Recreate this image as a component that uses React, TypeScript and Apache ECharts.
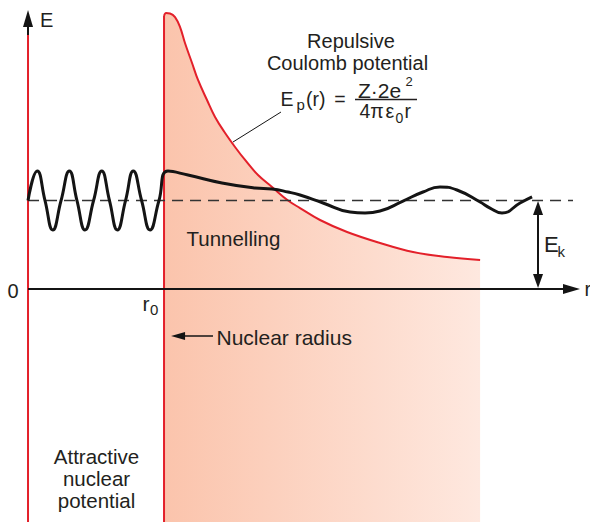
import React, { useEffect, useRef } from 'react';
import * as echarts from 'echarts';

// Axis units: r in units where the nuclear radius r0 = 10, E in units where Ek = 10
const R0 = 10;
const EK = 10;
const X_MIN = -2.06;
const X_MAX = 41.32;
const Y_MIN = -26.33;
const Y_MAX = 32.66;

// Repulsive Coulomb barrier (r, E)
const BARRIER_R = [10, 10.15, 10.44, 10.81, 11.18, 11.54, 12.06, 12.5, 13.16, 13.75, 14.49, 15.22, 15.96, 16.91, 17.94, 19.12, 20.0, 21.47, 23.46, 25.88, 28.31, 30.81, 33.24];
const BARRIER_E = [30.85, 31.19, 31.14, 30.73, 29.6, 27.8, 25.54, 23.62, 21.36, 19.44, 17.63, 16.05, 14.58, 12.88, 11.53, 10.0, 9.15, 7.8, 6.44, 5.2, 4.18, 3.62, 3.28];

// Wave function (r, E)
const WAVE_R = [0, 0.68, 1.25, 1.82, 2.43, 3.04, 3.6, 4.19, 4.82, 5.42, 5.99, 6.57, 7.17, 7.74, 8.35, 8.97, 9.63, 10.29, 11.76, 14.26, 16.69, 17.94, 19.12, 20.0, 21.69, 23.68, 24.78, 25.88, 27.57, 29.04, 30.29, 31.54, 33.24, 33.97, 34.85, 36.18, 37.06];
const WAVE_E = [10, 13.33, 10, 6.67, 10, 13.33, 10, 6.67, 10, 13.33, 10, 6.67, 10, 13.33, 10, 6.67, 10, 13.33, 12.88, 11.98, 11.41, 11.3, 10.96, 10.62, 9.72, 8.7, 8.59, 8.81, 9.94, 10.96, 11.53, 11.19, 9.83, 9.15, 8.59, 9.72, 10.4];

// Walls and guides
const WALL_TOP_E = 28.7;      // top of red attractive wall at r = 0
const R0_TOP_E = 30.85;       // top of red line at r0
const E_AXIS_HEAD = 30.56;    // E-axis arrow head centre
const R_AXIS_HEAD = 39.96;    // r-axis arrow head centre
const DASH_END_R = 40.07;
const EK_R = 37.5;
const EK_HEADS = [0.9, 9.15];
const NUC_ARROW = { from: 13.6, to: 11.03, e: -5.31 };
const LEADER = { r1: 18.6, e1: 20.0, r2: 15.07, e2: 16.61 };

const FONT = '"Liberation Sans", Arial, Helvetica, sans-serif';
const TXT = '#231f20';
const RED = '#e3202a';

function zip(a: number[], b: number[]) {
  return a.map((v, i) => [v, b[i]]);
}

function txt(text: string, x: number, y: number, size: number, align: string = 'left') {
  return {
    type: 'text',
    x,
    y,
    silent: true,
    z: 100,
    style: { text, fill: TXT, fontSize: size, fontFamily: FONT, align, verticalAlign: 'middle' },
  };
}

export default function App() {
  const ref = useRef<HTMLDivElement>(null);
  useEffect(() => {
    if (!ref.current) return;
    const chart = echarts.init(ref.current, undefined, { renderer: 'svg' });
    const black = '#141414';
    const option: any = {
      animation: false,
      backgroundColor: '#ffffff',
      grid: { left: 0, right: 0, top: 0, bottom: 0 },
      xAxis: { type: 'value', min: X_MIN, max: X_MAX, show: false },
      yAxis: { type: 'value', min: Y_MIN, max: Y_MAX, show: false },
      series: [
        {
          type: 'line',
          data: zip(BARRIER_R, BARRIER_E),
          symbol: 'none',
          smooth: 0.4,
          silent: true,
          z: 1,
          lineStyle: { color: RED, width: 2 },
          areaStyle: {
            origin: 'start',
            opacity: 1,
            color: new echarts.graphic.LinearGradient(0, 0, 1, 0, [
              { offset: 0, color: '#fbc4ac' },
              { offset: 1, color: '#fee8df' },
            ]),
          },
        },
        {
          type: 'line',
          data: [[R0, Y_MIN], [R0, R0_TOP_E]],
          symbol: 'none',
          silent: true,
          z: 2,
          lineStyle: { color: RED, width: 2 },
        },
        {
          type: 'line',
          data: [[0, Y_MIN], [0, WALL_TOP_E]],
          symbol: 'none',
          silent: true,
          z: 2,
          lineStyle: { color: RED, width: 2 },
        },
        {
          type: 'line',
          data: [[0, EK], [DASH_END_R, EK]],
          symbol: 'none',
          silent: true,
          z: 3,
          lineStyle: { color: '#333333', width: 1.5, type: [11, 7] },
        },
        {
          type: 'line',
          data: zip(WAVE_R, WAVE_E),
          symbol: 'none',
          smooth: 0.5,
          silent: true,
          z: 4,
          lineStyle: { color: black, width: 3 },
          markLine: {
            silent: true,
            animation: false,
            label: { show: false },
            emphasis: { disabled: true },
            data: [
              [
                { coord: [0, WALL_TOP_E], symbol: 'none', lineStyle: { color: black, width: 2, type: 'solid' } },
                { coord: [0, E_AXIS_HEAD], symbol: 'triangle', symbolSize: [10, 17] },
              ],
              [
                { coord: [0, 0], symbol: 'none', lineStyle: { color: black, width: 2, type: 'solid' } },
                { coord: [R_AXIS_HEAD, 0], symbol: 'triangle', symbolSize: [10, 17] },
              ],
              [
                { coord: [EK_R, EK_HEADS[0]], symbol: 'triangle', symbolSize: [10, 14], lineStyle: { color: black, width: 2, type: 'solid' } },
                { coord: [EK_R, EK_HEADS[1]], symbol: 'triangle', symbolSize: [10, 14] },
              ],
              [
                { coord: [NUC_ARROW.from, NUC_ARROW.e], symbol: 'none', lineStyle: { color: black, width: 1.5, type: 'solid' } },
                { coord: [NUC_ARROW.to, NUC_ARROW.e], symbol: 'triangle', symbolSize: [8, 14] },
              ],
              [
                { coord: [LEADER.r1, LEADER.e1], symbol: 'none', lineStyle: { color: black, width: 1, type: 'solid' } },
                { coord: [LEADER.r2, LEADER.e2], symbol: 'none' },
              ],
            ],
          },
        },
      ],
      graphic: [
        txt('E', 40, 20, 20),
        txt('Repulsive', 351, 40.5, 20, 'center'),
        txt('Coulomb potential', 347.5, 62.5, 20, 'center'),
        txt('E', 280.5, 99.2, 19.5),
        txt('p', 296.5, 104.6, 15),
        txt('(r)', 306, 99.2, 19.5),
        txt('=', 340, 99.2, 19.5, 'center'),
        txt('Z·2e', 358, 90, 21),
        txt('2', 405.5, 81, 13),
        txt('4π', 359.5, 111.4, 19.5),
        txt('ε', 385.5, 111.4, 19.5),
        txt('0', 395.5, 118, 14),
        txt('r', 404.5, 111.4, 19.5),
        {
          type: 'line',
          silent: true,
          z: 100,
          shape: { x1: 355, y1: 99.5, x2: 417, y2: 99.5 },
          style: { stroke: TXT, lineWidth: 1.3 },
        },
        txt('Tunnelling', 186.5, 238, 20.5),
        txt('Nuclear radius', 216.5, 337, 21),
        txt('0', 7.5, 291, 20),
        txt('r', 142.5, 303.5, 21),
        txt('0', 150, 309.5, 15),
        txt('r', 584.5, 289, 20),
        txt('E', 544, 244.4, 22),
        txt('k', 557.5, 251, 15),
        txt('Attractive', 96.5, 456, 20.5, 'center'),
        txt('nuclear', 96.5, 478, 20.5, 'center'),
        txt('potential', 96.5, 500, 20.5, 'center'),
      ],
    };
    chart.setOption(option);
    return () => chart.dispose();
  }, []);
  return (
    <div
      ref={ref}
      style={{ position: 'fixed', left: 0, top: 0, width: 590, height: 522, background: '#fff' }}
    />
  );
}
